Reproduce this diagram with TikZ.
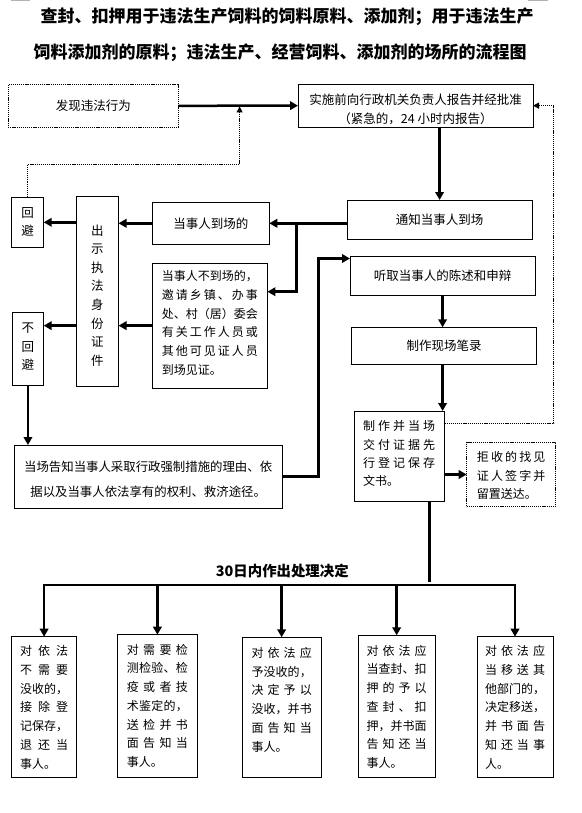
\documentclass[tikz,border=0pt]{standalone}
\usepackage{fontspec}
\setmainfont{Noto Sans CJK SC}
\usetikzlibrary{arrows.meta}
\newdimen\lw
\def\mygobble#1{}
\def\spA#1#2{#1\ifx\relax#2\expandafter\mygobble\else\hfil\expandafter\spA\fi#2}
\newcommand\JL[1]{\hbox to\lw{\vrule height9pt depth3pt width0pt\spA#1\relax}}
\newcommand\LL[1]{\hbox to\lw{\vrule height9pt depth3pt width0pt#1\hfil}}
\newcommand\CL[1]{\hbox to\lw{\hfil\vrule height9pt depth3pt width0pt#1\hfil}}
\newcommand\TB[8][]{\node[tbox,inner xsep=#4pt,#1] (#2) at (#3) {\lw=#5pt\relax\vbox to #6pt{\kern#7pt\relax#8\vfil}};}
\begin{document}
\begin{tikzpicture}[x=1pt,y=-1pt,
 every node/.style={inner sep=0pt, outer sep=0pt, line width=0.9pt},
 sbox/.style={draw, anchor=north west, font=\fontsize{12.5}{15}\selectfont},
 tbox/.style={draw, anchor=north west, inner ysep=0pt, font=\fontsize{12}{18.75}\selectfont},
 dots/.style={dash pattern=on 1.2pt off 0.9pt, line width=1.1pt},
 conn/.style={line width=2.5pt, -{Triangle[length=8pt,width=8.5pt]}},
 dconn/.style={line width=1.1pt, dash pattern=on 1.2pt off 0.9pt, -{Triangle[length=6pt,width=6pt]}},
 thick line/.style={line width=2.5pt}
]
\fill[white] (0,0) rectangle (581,813);
\useasboundingbox (0,0) rectangle (581,813);
\draw[gray!60, line width=1pt] (11,0.5) -- (30,0.5) (528,0.5) -- (548,0.5);

% title
\node[font=\fontsize{17}{17}\selectfont\bfseries] (t1) at (287,16.7) {查封、扣押用于违法生产饲料的饲料原料、添加剂；用于违法生产};
\node[font=\fontsize{17}{17}\selectfont\bfseries] (t2) at (280,52.7) {饲料添加剂的原料；违法生产、经营饲料、添加剂的场所的流程图};

% boxes
\node[sbox, dots, minimum width=170.4pt, minimum height=43pt] (find) at (8.1,84.3) {发现违法行为};
\TB[font=\fontsize{12.5}{19}\selectfont]{appr}{298,84.3}{5}{225}{42.7}{9.15}{\CL{实施前向行政机关负责人报告并经批准}\CL{（紧急的，24 小时内报告）}}
\node[sbox, minimum width=185.2pt, minimum height=39.3pt] (notify) at (347,200) {通知当事人到场};
\node[sbox, minimum width=117.1pt, minimum height=42pt] (arrive) at (152.2,202.3) {当事人到场的};
\TB{absent}{152.2,263.3}{9.6}{96}{124.7}{7.3}{\JL{当事人不到场的，}\JL{邀请乡镇、办事}\JL{处、村（居）委会}\JL{有关工作人员或}\JL{其他可见证人员}\LL{到场见证。}}
\TB[font=\fontsize{12.5}{18.57}\selectfont]{show}{76.3,196}{14.85}{12.5}{190}{28.75}{\CL{出}\CL{示}\CL{执}\CL{法}\CL{身}\CL{份}\CL{证}\CL{件}}
\TB[font=\fontsize{12.5}{18.3}\selectfont]{huibi}{11.5,197.3}{9.85}{12.5}{50}{10.15}{\CL{回}\CL{避}}
\TB[font=\fontsize{12.5}{18.65}\selectfont]{buhuibi}{12.2,312.7}{9.5}{12.5}{72.6}{10.05}{\CL{不}\CL{回}\CL{避}}
\TB[font=\fontsize{12.4}{25.7}\selectfont]{inform}{14.1,445}{9.05}{250}{63.3}{15.75}{\CL{当场告知当事人采取行政强制措施的理由、依}\CL{据以及当事人依法享有的权利、救济途径。}}
\node[sbox, minimum width=185.2pt, minimum height=39pt] (listen) at (350,256) {听取当事人的陈述和申辩};
\node[sbox, minimum width=184.4pt, minimum height=37pt] (record) at (351.9,327.3) {制作现场笔录};
\TB[font=\fontsize{12}{18.33}\selectfont]{make}{354,411}{9.2}{72}{90.7}{9.56}{\JL{制作并当场}\JL{交付证据先}\JL{行登记保存}\LL{文书。}}
\TB[dots]{refuse}{466.7,442.3}{10.2}{68.5}{64.4}{8.96}{\JL{拒收的找见}\JL{证人签字并}\LL{留置送达。}}

\node[font=\fontsize{14.4}{15}\selectfont\bfseries] (lab) at (282.3,570.7) {30日内作出处理决定};

\TB{d1}{11.5,636.7}{8.6}{48}{140.6}{8.86}{\JL{对依法}\JL{不需要}\JL{没收的，}\JL{接除登}\JL{记保存，}\JL{退还当}\LL{事人。}}
\TB{d2}{117.4,634.7}{9.5}{61}{142.6}{9.16}{\JL{对需要检}\JL{测检验、检}\JL{疫或者技}\JL{术鉴定的，}\JL{送检并书}\JL{面告知当}\LL{事人。}}
\TB{d3}{242.2,637.3}{9.3}{60.3}{140}{9.96}{\JL{对依法应}\JL{予没收的，}\JL{决定予以}\JL{没收，并书}\JL{面告知当}\LL{事人。}}
\TB{d4}{358.1,635.3}{8.55}{60}{142}{9.56}{\JL{对依法应}\JL{当查封、扣}\JL{押的予以}\JL{查封、扣}\JL{押，并书面}\JL{告知还当}\LL{事人。}}
\TB{d5}{477,636.7}{8}{60}{140.6}{8.86}{\JL{对依法应}\JL{当移送其}\JL{他部门的，}\JL{决定移送，}\JL{并书面告}\JL{知还当事}\LL{人。}}

% connectors
\draw[conn] (find.east) -- (appr.west);
\draw[conn] (notify.north |- appr.south) -- (notify.north);
\draw[conn] (notify.west |- arrive.east) -- (arrive.east);
\coordinate (br) at (296.3,223.3);
\coordinate (br2) at (296.3,291.7);
\draw[conn] (br) -- (br2) -- (br2 -| absent.east);
\draw[conn] (arrive.west) -- (arrive.west -| show.east);
\draw[conn] (show.west |- huibi.east) -- (huibi.east);
\draw[conn] (absent.west) -- (absent.west -| show.east);
\draw[conn] (show.west |- absent.west) -- (buhuibi.east |- absent.west);
\draw[conn] (buhuibi.south) -- (buhuibi.south |- inform.north);
\coordinate (c1) at (318.5,258.5);
\draw[conn] (inform.east) -| (c1) -- (c1 -| listen.west);
\draw[conn] (listen.south) -- (listen.south |- record.north);
\coordinate (ax) at (442.6,0);
\draw[conn] (ax |- record.south) -- (ax |- make.north);
\coordinate (dr) at (553.7,423.3);
\draw[dconn] (make.east |- dr) -- (dr) -- (dr |- appr.east) -- (appr.east);
\draw[conn] (make.east |- refuse.west) -- (refuse.west);
\coordinate (vend) at (429.6,582);
\draw[thick line] (vend |- make.south) -- (vend);
\coordinate (bl) at (44.4,585);
\coordinate (brr) at (514.8,585);
\draw[thick line, line cap=rect] (bl) -- (brr);
\foreach \d in {d1,d2,d3,d4,d5} \draw[conn] (\d.north |- bl) -- (\d.north);
\coordinate (f2) at (239.6,164.3);
\coordinate (f3) at (239.6,106.5);
\draw[dconn] (huibi.north) |- (f2) -- (f3);
\end{tikzpicture}
\end{document}
